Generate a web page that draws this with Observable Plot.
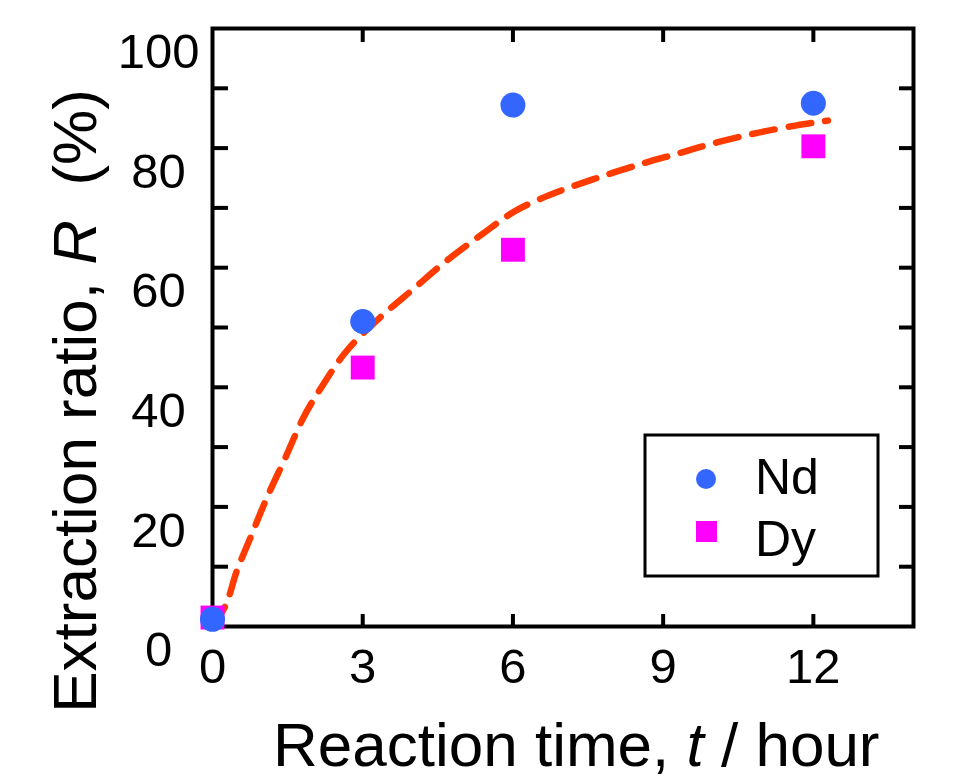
<!DOCTYPE html>
<html>
<head>
<meta charset="utf-8">
<script src="https://cdn.jsdelivr.net/npm/d3@7"></script>
<script src="https://cdn.jsdelivr.net/npm/@observablehq/plot@0.6"></script>
<style>
  body { margin: 0; background: #fff; }
  #chart { position: relative; width: 963px; height: 780px; font-family: "Liberation Sans", Arial, sans-serif; }
</style>
</head>
<body>
<div id="chart"></div>
<script>
// ---- data ----
const seriesNames = ["Nd", "Dy"];
const seriesColors = ["#3366ff", "#ff00ff"];
const timeH = [0, 3, 6, 12];
const ndR = [1.2, 51.0, 87.2, 87.5];
const dyR = [1.5, 43.3, 63.0, 80.3];
// dashed fit curve
const fitT = [0, 0.26, 0.49, 0.76, 1.09, 1.46, 1.82, 2.22, 2.69, 3.35, 4.02, 4.68, 5.40, 6.05, 6.81, 7.61, 8.54, 9.34, 10.0, 10.8, 11.67, 12.29];
const fitR = [0, 3.5, 9.4, 14.9, 21.6, 28.3, 35.0, 40.6, 46.2, 51.7, 56.5, 61.2, 65.7, 69.5, 72.4, 74.8, 77.3, 79.2, 80.8, 82.4, 83.8, 84.6];
// ticks
const xTickLabels = [0, 3, 6, 9, 12];
const xTickMarks = [3, 6, 9, 12];
const yTickLabels = [0, 20, 40, 60, 80, 100];
const yTickMarks = [10, 20, 30, 40, 50, 60, 70, 80, 90];
const xTitle = ["Reaction time, ", "t", " / hour"];
const yTitle = ["Extraction ratio, ", "R", "  (%)"];

const nd = timeH.map((t, i) => ({t, r: ndR[i]}));
const dy = timeH.map((t, i) => ({t, r: dyR[i]}));
const fit = fitT.map((t, i) => ({t, r: fitR[i]}));

const font = "'Liberation Sans', Arial, sans-serif";

const chart = Plot.plot({
  width: 963,
  height: 780,
  marginLeft: 212,
  marginRight: 50,
  marginTop: 28,
  marginBottom: 154,
  x: {domain: [0, 14]},
  y: {domain: [0, 100]},
  style: {fontFamily: font, background: "white", color: "black"},
  marks: [
    // inward tick marks on all four sides
    Plot.axisX(xTickMarks, {anchor: "bottom", tickSize: -12, strokeWidth: 4, tickFormat: () => "", label: null}),
    Plot.axisX(xTickMarks, {anchor: "top", tickSize: -13, strokeWidth: 4, tickFormat: () => "", label: null}),
    Plot.axisY(yTickMarks, {anchor: "left", tickSize: -16, strokeWidth: 4, tickFormat: () => "", label: null}),
    Plot.axisY(yTickMarks, {anchor: "right", tickSize: -15, strokeWidth: 4, tickFormat: () => "", label: null}),
    // tick labels
    Plot.axisX(xTickLabels, {anchor: "bottom", tickSize: 0, tickPadding: 22, fontSize: 49, label: null}),
    Plot.axisY(yTickLabels, {anchor: "left", tickSize: 0, tickPadding: 54, textAnchor: "middle", dy: 24, fontSize: 49, label: null}),
    Plot.frame({stroke: "black", strokeWidth: 4}),
    Plot.line(fit, {x: "t", y: "r", stroke: "#ff3b00", strokeWidth: 6.5, strokeDasharray: "23,14", curve: "catmull-rom"}),
    Plot.dot(dy, {x: "t", y: "r", symbol: "square", r: 13.5, fill: seriesColors[1], stroke: "none"}),
    Plot.dot(nd, {x: "t", y: "r", symbol: "circle", r: 12.5, fill: seriesColors[0], stroke: "none"})
  ]
});

const svg = d3.select(chart);

// axis titles with italic variables
function addTitle(parts, attrs) {
  const t = svg.append("text")
    .attr("font-family", font)
    .attr("font-size", 62)
    .attr("fill", "black")
    .style("white-space", "pre");
  Object.entries(attrs).forEach(([k, v]) => t.attr(k, v));
  parts.forEach((p, i) => {
    const s = t.append("tspan").text(p);
    if (i === 1) s.attr("font-style", "italic");
  });
}
addTitle(xTitle, {x: 273, y: 766, "text-anchor": "start"});
addTitle(yTitle, {transform: "translate(96,401) rotate(-90)", "text-anchor": "middle"});

// legend box inside the frame
const lg = svg.append("g").attr("text-anchor", "start");
lg.append("rect").attr("x", 645).attr("y", 435).attr("width", 233).attr("height", 141)
  .attr("fill", "white").attr("stroke", "black").attr("stroke-width", 3);
lg.append("circle").attr("cx", 706).attr("cy", 479).attr("r", 10).attr("fill", seriesColors[0]);
lg.append("rect").attr("x", 696).attr("y", 521).attr("width", 21).attr("height", 21).attr("fill", seriesColors[1]);
seriesNames.forEach((n, i) => {
  lg.append("text").attr("x", 755).attr("y", 494 + i * 62).attr("text-anchor", "start")
    .attr("font-family", font).attr("font-size", 50).attr("fill", "black").text(n);
});

document.getElementById("chart").appendChild(chart);
</script>
</body>
</html>
